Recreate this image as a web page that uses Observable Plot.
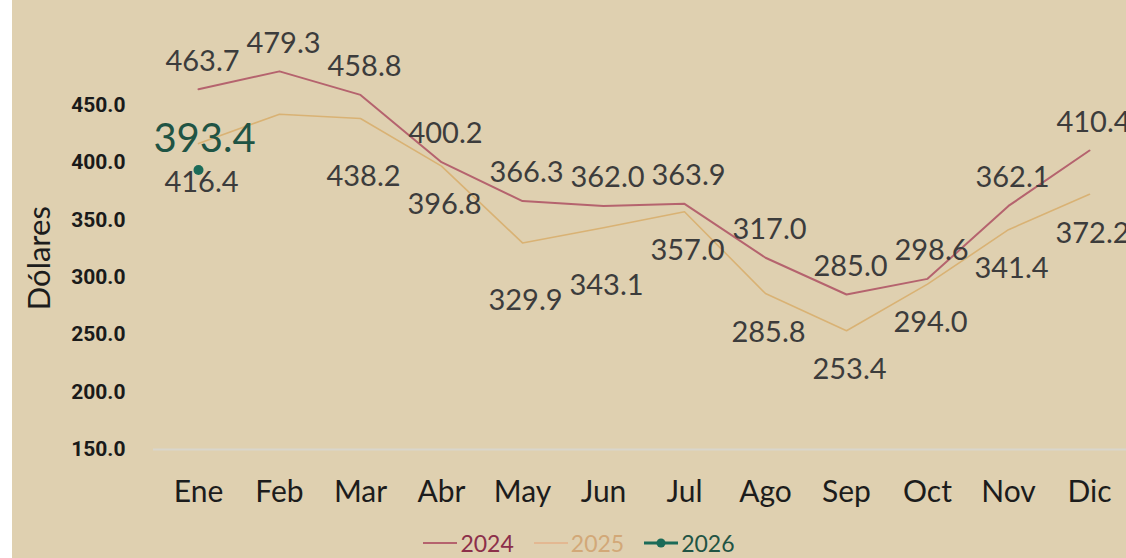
<!DOCTYPE html>
<html>
<head>
<meta charset="utf-8">
<script src="https://cdn.jsdelivr.net/npm/d3@7"></script>
<script src="https://cdn.jsdelivr.net/npm/@observablehq/plot@0.6"></script>
<style>
  html, body { margin: 0; padding: 0; background: #ffffff; overflow: hidden; }
  #wrap { margin-left: 12px; width: 1114px; height: 558px; background: #dfd0b0; overflow: hidden; }
  #legend { display: flex; justify-content: center; align-items: center; height: 30px; padding-left: 20px; margin-top: 4px;
            font-family: Lato, sans-serif; font-size: 23px; }
  #legend .item { display: flex; align-items: center; margin: 0 10px; }
  #legend svg { margin-right: 3px; }
</style>
</head>
<body>
<div id="wrap"></div>
<script>
const months = ["Ene","Feb","Mar","Abr","May","Jun","Jul","Ago","Sep","Oct","Nov","Dic"];
const values2024 = [463.7, 479.3, 458.8, 400.2, 366.3, 362.0, 363.9, 317.0, 285.0, 298.6, 362.1, 410.4];
const values2025 = [416.4, 442.0, 438.2, 396.8, 329.9, 343.1, 357.0, 285.8, 253.4, 294.0, 341.4, 372.2];
const values2026 = [393.4];
const unlabeled2025 = ["Feb"];
const lowLabels2025 = ["Mar", "May", "Jun"];
const yTicks = [150, 200, 250, 300, 350, 400, 450];
const seriesNames = ["2024", "2025", "2026"];

const c2024 = "#b5636e", c2025 = "#d9b274", c2026 = "#1b6b58";
const t2024 = "#8c2f4a", t2025 = "#d2a878", t2026 = "#1f5444";

const d2024 = months.map((m, i) => ({month: m, value: values2024[i]}));
const d2025 = months.map((m, i) => ({month: m, value: values2025[i]}));
const d2026 = values2026.map((v, i) => ({month: months[i], value: v}));
const lab2025 = d2025.filter(d => !unlabeled2025.includes(d.month) && !lowLabels2025.includes(d.month));
const lab2025low = d2025.filter(d => lowLabels2025.includes(d.month));

const fmt = d => d.toFixed(1);
const labelStyle = {fontSize: 29, fontFamily: "Lato, sans-serif", fill: "#3c3c3c"};

const chart = Plot.plot({
  width: 1114,
  height: 524,
  marginLeft: 181,
  marginRight: 33,
  marginTop: 104.5,
  marginBottom: 75,
  style: {background: "transparent", overflow: "visible"},
  x: {type: "point", domain: months, padding: 0},
  y: {domain: [150, 450]},
  marks: [
    Plot.ruleY([150], {stroke: "#d9d6cc", strokeWidth: 2, insetLeft: -40, insetRight: -33}),
    Plot.axisY({ticks: yTicks, tickSize: 0, tickPadding: 68, tickFormat: fmt, label: null,
                fontSize: 21, fontWeight: "bold", fontFamily: "Roboto, sans-serif", fill: "#1a1a1a"}),
    Plot.axisX({tickSize: 0, tickPadding: 31, label: null, fontSize: 30,
                fontFamily: "Lato, sans-serif", fill: "#1c1c1c"}),
    Plot.text(["Dólares"], {frameAnchor: "left", rotate: -90, textAnchor: "middle", dx: -153, dy: -19,
                fontSize: 31, fontFamily: "Lato, sans-serif", fill: "#1c1c1c"}),
    Plot.line(d2025, {x: "month", y: "value", stroke: c2025, strokeWidth: 1.6}),
    Plot.line(d2024, {x: "month", y: "value", stroke: c2024, strokeWidth: 2}),
    Plot.text(d2024, {x: "month", y: "value", text: d => fmt(d.value), dy: -28, dx: 4, ...labelStyle}),
    Plot.text(lab2025, {x: "month", y: "value", text: d => fmt(d.value), dy: 39, dx: 3, ...labelStyle}),
    Plot.text(lab2025low, {x: "month", y: "value", text: d => fmt(d.value), dy: 58, dx: 3, ...labelStyle}),
    Plot.dot(d2026, {x: "month", y: "value", r: 5, fill: c2026, stroke: "none"}),
    Plot.text(d2026, {x: "month", y: "value", text: d => fmt(d.value), dy: -31, dx: 6,
                fontSize: 40, fontFamily: "Lato, sans-serif", fill: t2026})
  ]
});

const wrap = document.getElementById("wrap");
wrap.appendChild(chart);

const legend = document.createElement("div");
legend.id = "legend";
const lineColors = [c2024, "#e3b892", c2026];
const textColors = [t2024, t2025, t2026];
seriesNames.forEach((name, i) => {
  const item = document.createElement("div");
  item.className = "item";
  const dot = i === 2 ? `<circle cx="17" cy="8" r="4.5" fill="${lineColors[i]}"/>` : "";
  item.innerHTML = `<svg width="34" height="16"><line x1="0" x2="34" y1="8" y2="8" stroke="${lineColors[i]}" stroke-width="${i === 2 ? 3 : 2}"/>${dot}</svg><span style="color:${textColors[i]}">${name}</span>`;
  legend.appendChild(item);
});
wrap.appendChild(legend);
</script>
</body>
</html>
